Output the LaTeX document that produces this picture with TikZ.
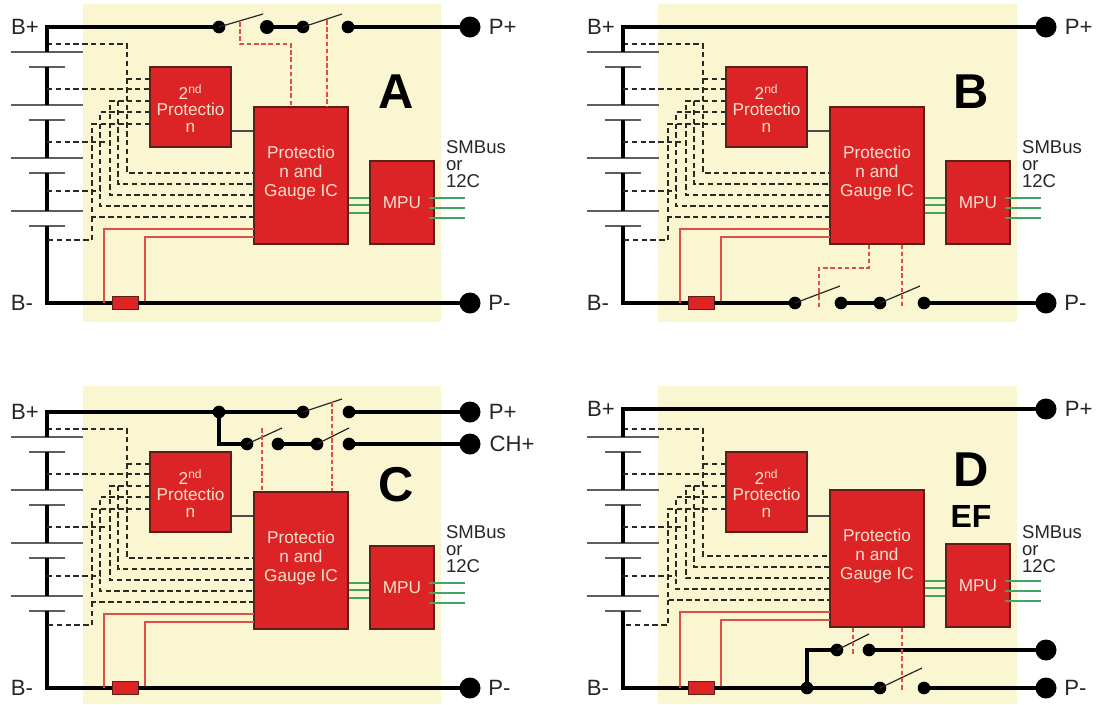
\documentclass[tikz,border=0pt]{standalone}
\usepackage{fontspec}
\setmainfont{Liberation Sans}
\definecolor{panelbg}{HTML}{FBF6D2}
\definecolor{boxred}{HTML}{DC2426}
\definecolor{boxedge}{HTML}{5E1F1A}
\definecolor{boxtext}{HTML}{F8E0CC}
\definecolor{linered}{HTML}{DF4F48}
\definecolor{busgreen}{HTML}{45A265}
\definecolor{plategray}{HTML}{5F5F5A}
\definecolor{sensedark}{HTML}{2A2A22}
% parts that all four packs share: #1 = y of the top rail, #2 = shift of the two ICs
\newcommand{\packparts}[2]{
    \node[longplate] (Plate1) at (47,52) {};
    \node[shortplate] (Plate2) at (47,67) {};
    \node[longplate] (Plate3) at (47,105) {};
    \node[shortplate] (Plate4) at (47,120) {};
    \node[longplate] (Plate5) at (47,158) {};
    \node[shortplate] (Plate6) at (47,173) {};
    \node[longplate] (Plate7) at (47,211) {};
    \node[shortplate] (Plate8) at (47,226) {};
    \node[main, font=\fontsize{12.9}{12.4}\selectfont, minimum width=60.75pt, minimum height=60pt] (Second) at (190.5,107) {\rule{0pt}{13pt}2\textsuperscript{nd}\\Protectio\\n};
    \node[main, minimum width=70.5pt, minimum height=102.75pt] (Gauge) at (301,175.5+#2) {Protectio\\n and\\Gauge IC\rule[-6pt]{0pt}{6pt}};
    \node[main, minimum width=48pt, minimum height=62.25pt] (Mpu) at (402,202.5+#2) {MPU};
    \node[shunt] (Shunt) at (125,303) {};
    \node[tag] (BPlus) at (25,#1) {B+};
    \node[tag] (BMinus) at (22,303) {B-};
    \node[bustag] (BusName) at (476,164) {SMBus\\or\\12C};
    \coordinate (TapA) at (47,44);
    \coordinate (TapB) at (47,89);
    \coordinate (TapC) at (47,142);
    \coordinate (TapD) at (47,191);
    \coordinate (TapE) at (47,240);
    \coordinate (EndC) at (108,142);
    \coordinate (EndD) at (100,191);
    \coordinate (ColA) at (127,173+#2);
    \coordinate (ColB) at (118,184+#2);
    \coordinate (ColC) at (110,195+#2);
    \coordinate (ColD) at (100,206+#2);
    \coordinate (ColE) at (92,217+#2);
    \coordinate (PinA) at (150,79);
    \coordinate (PinB) at (150,89);
    \coordinate (PinC) at (150,101);
    \coordinate (PinD) at (150,112);
    \coordinate (PinE) at (150,124);
    \coordinate (ShuntA) at (104,303);
    \coordinate (ShuntB) at (145,303);
    \coordinate (SenseA) at (254,229+#2);
    \coordinate (SenseB) at (254,237+#2);
    \draw[rail] (Plate2.center) -- (Plate3.center);
    \draw[rail] (Plate4.center) -- (Plate5.center);
    \draw[rail] (Plate6.center) -- (Plate7.center);
    \draw[rail] (Plate8.center) |- (Shunt.west);
    \draw[sense] (TapA) -| (ColA) -- (ColA -| Gauge.west);
    \draw[sense] (PinA) -- (PinA -| ColA);
    \draw[sense] (TapB) -- (PinB);
    \draw[sense] (PinC) -| (ColC) -- (ColC -| Gauge.west);
    \draw[sense] (PinC -| ColB) -- (ColB) -- (ColB -| Gauge.west);
    \draw[sense] (PinD) -| (ColD) -- (ColD -| Gauge.west);
    \draw[sense] (PinE) -| (ColE) -- (ColE -| Gauge.west);
    \draw[sense] (ColE) |- (TapE);
    \draw[sense] (TapC) -- (EndC);
    \draw[sense] (TapD) -- (EndD);
    \draw[sensered] (ShuntA) |- (SenseA);
    \draw[sensered] (ShuntB) |- (SenseB);
    \draw[link] (Second.east |- 0,131) -- (Gauge.west |- 0,131);
    \foreach \yy in {198,205,213} {
        \draw[bus] (Gauge.east |- 0,\yy+#2) -- (Mpu.west |- 0,\yy+#2);
    }
    \foreach \yy in {198,208,218} {
        \coordinate (BusEnd) at (465,\yy+#2);
        \draw[bus] ([xshift=-4.5pt]Mpu.east |- BusEnd) -- (BusEnd);
    }
}
\begin{document}
\begin{tikzpicture}[x=0.75pt,y=-0.75pt,
    main/.style = {draw=boxedge, fill=boxred, line width=0.8pt, text=boxtext, align=center, inner sep=0pt, font=\fontsize{12.9}{14.3}\selectfont},
    longplate/.style = {fill=plategray, minimum width=54pt, minimum height=1.5pt, inner sep=0pt},
    shortplate/.style = {fill=plategray, minimum width=27pt, minimum height=1.5pt, inner sep=0pt},
    shunt/.style = {draw=boxedge, fill=boxred, line width=0.6pt, minimum width=19.5pt, minimum height=9.75pt, inner sep=0pt},
    tag/.style = {font=\fontsize{16.6}{18}\selectfont, text=black!85, inner sep=0pt},
    bustag/.style = {font=\fontsize{13.9}{12.8}\selectfont, text=black!85, align=left, inner sep=0pt},
    letter/.style = {font=\fontsize{36.7}{38}\selectfont\bfseries, inner sep=0pt},
    dot/.style = {circle, fill=black, minimum size=9.5pt, inner sep=0pt},
    term/.style = {circle, fill=black, minimum size=15.75pt, inner sep=0pt},
    rail/.style = {line width=2.7pt, black, line join=miter},
    blade/.style = {line width=0.9pt, black!85},
    sense/.style = {line width=1pt, sensedark, dash pattern=on 4pt off 2.6pt},
    sensered/.style = {line width=0.9pt, linered},
    trip/.style = {line width=1pt, linered, dash pattern=on 3.4pt off 2pt},
    link/.style = {line width=0.9pt, black!70},
    bus/.style = {line width=0.9pt, busgreen}]
    \useasboundingbox (0,0) rectangle (1097,704);
    \fill[panelbg] (83,4) rectangle (441,322);
    \fill[panelbg] (658,4) rectangle (1017,322);
    \fill[panelbg] (83,386) rectangle (441,704);
    \fill[panelbg] (658,386) rectangle (1017,704);
    % A: both switches in the top rail
    \begin{scope}[name prefix=A-]
        \packparts{27}{0}
        \node[term] (PPlus) at (470,27) {};
        \node[term] (PMinus) at (470,303) {};
        \node[tag, right of = PPlus, node distance=24.5pt] (PPlusName) {P+};
        \node[tag, right of = PMinus, node distance=22pt] (PMinusName) {P-};
        \node[letter] (Name) at (396,92) {A};
        \node[dot] (SwitchA) at (219,27) {};
        \node[dot, minimum size=10.5pt] (SwitchB) at (267,27) {};
        \node[dot] (SwitchC) at (303,27) {};
        \node[dot] (SwitchD) at (348,27) {};
        \coordinate (BladeA) at (263,14);
        \coordinate (BladeB) at (342,14);
        \coordinate (TripA) at (240,22);
        \coordinate (TripB) at (291,44);
        \coordinate (TripC) at (327,20);
        \draw[rail] (Plate1.center) |- (SwitchA.center);
        \draw[rail] (SwitchB.center) -- (SwitchC.center);
        \draw[rail] (SwitchD.center) -- (PPlus.center);
        \draw[rail] (Shunt.east) -- (PMinus.center);
        \draw[blade] (SwitchA.center) -- (BladeA);
        \draw[blade] (SwitchC.center) -- (BladeB);
        \draw[trip] (TripA) |- (TripB) -- (TripB |- Gauge.north);
        \draw[trip] (TripC) -- (TripC |- Gauge.north);
    \end{scope}
    % B: both switches in the bottom rail
    \begin{scope}[shift={(576,0)}, name prefix=B-]
        \packparts{27}{0}
        \node[term] (PPlus) at (470,27) {};
        \node[term] (PMinus) at (470,303) {};
        \node[tag, right of = PPlus, node distance=24.5pt] (PPlusName) {P+};
        \node[tag, right of = PMinus, node distance=22pt] (PMinusName) {P-};
        \node[letter] (Name) at (395,92) {B};
        \node[dot] (SwitchA) at (219,303) {};
        \node[dot] (SwitchB) at (265,303) {};
        \node[dot] (SwitchC) at (304,303) {};
        \node[dot] (SwitchD) at (348,303) {};
        \coordinate (BladeA) at (264,286);
        \coordinate (BladeB) at (344,286);
        \coordinate (TripA) at (293,268);
        \coordinate (TripB) at (243,308);
        \coordinate (TripC) at (326,306);
        \draw[rail] (Plate1.center) |- (PPlus.center);
        \draw[rail] (Shunt.east) -- (SwitchA.center);
        \draw[rail] (SwitchB.center) -- (SwitchC.center);
        \draw[rail] (SwitchD.center) -- (PMinus.center);
        \draw[blade] (SwitchA.center) -- (BladeA);
        \draw[blade] (SwitchC.center) -- (BladeB);
        \draw[trip] (TripA |- Gauge.south) -- (TripA) -| (TripB);
        \draw[trip] (TripC |- Gauge.south) -- (TripC);
    \end{scope}
    % C: separate charge path on the top rail
    \begin{scope}[shift={(0,385)}, name prefix=C-]
        \packparts{27}{0}
        \node[term] (PPlus) at (470,27) {};
        \node[term] (ChPlus) at (470,59) {};
        \node[term] (PMinus) at (470,303) {};
        \node[tag, right of = PPlus, node distance=24.5pt] (PPlusName) {P+};
        \node[tag, right of = ChPlus, node distance=31.5pt] (ChPlusName) {CH+};
        \node[tag, right of = PMinus, node distance=22pt] (PMinusName) {P-};
        \node[letter] (Name) at (396,100) {C};
        \node[dot] (Branch) at (219,27) {};
        \node[dot] (SwitchA) at (303,27) {};
        \node[dot] (SwitchB) at (349,27) {};
        \node[dot] (SwitchC) at (247,59) {};
        \node[dot] (SwitchD) at (278,59) {};
        \node[dot] (SwitchE) at (317,59) {};
        \node[dot] (SwitchF) at (349,59) {};
        \coordinate (BladeA) at (342,14);
        \coordinate (BladeB) at (282,43);
        \coordinate (BladeC) at (349,43);
        \coordinate (TripA) at (262,43);
        \coordinate (TripB) at (332,17);
        \draw[rail] (Plate1.center) |- (SwitchA.center);
        \draw[rail] (Branch.center) |- (SwitchC.center);
        \draw[rail] (SwitchB.center) -- (PPlus.center);
        \draw[rail] (SwitchD.center) -- (SwitchE.center);
        \draw[rail] (SwitchF.center) -- (ChPlus.center);
        \draw[rail] (Shunt.east) -- (PMinus.center);
        \draw[blade] (SwitchA.center) -- (BladeA);
        \draw[blade] (SwitchC.center) -- (BladeB);
        \draw[blade] (SwitchE.center) -- (BladeC);
        \draw[trip] (TripA) -- (TripA |- Gauge.north);
        \draw[trip] (TripB) -- (TripB |- Gauge.north);
    \end{scope}
    % D: two terminals on the bottom rail
    \begin{scope}[shift={(576,385)}, name prefix=D-]
        \packparts{24}{-2}
        \node[term] (PPlus) at (470,24) {};
        \node[term] (PExtra) at (470,265) {};
        \node[term] (PMinus) at (470,303) {};
        \node[tag, right of = PPlus, node distance=24.5pt] (PPlusName) {P+};
        \node[tag, right of = PMinus, node distance=22pt] (PMinusName) {P-};
        \node[letter] (Name) at (395,85) {D};
        \node[letter, font=\fontsize{24}{26}\selectfont\bfseries, below of = Name, node distance=35pt] (NameEF) {EF};
        \node[dot] (Branch) at (231,303) {};
        \node[dot] (SwitchA) at (261,265) {};
        \node[dot] (SwitchB) at (293,265) {};
        \node[dot] (SwitchC) at (304,303) {};
        \node[dot] (SwitchD) at (348,303) {};
        \coordinate (BladeA) at (293,249);
        \coordinate (BladeB) at (346,283);
        \coordinate (TripA) at (277,270);
        \coordinate (TripB) at (326,305);
        \draw[rail] (Plate1.center) |- (PPlus.center);
        \draw[rail] (Shunt.east) -- (SwitchC.center);
        \draw[rail] (Branch.center) |- (SwitchA.center);
        \draw[rail] (SwitchB.center) -- (PExtra.center);
        \draw[rail] (SwitchD.center) -- (PMinus.center);
        \draw[blade] (SwitchA.center) -- (BladeA);
        \draw[blade] (SwitchC.center) -- (BladeB);
        \draw[trip] (TripA |- Gauge.south) -- (TripA);
        \draw[trip] (TripB |- Gauge.south) -- (TripB);
    \end{scope}
\end{tikzpicture}
\end{document}
